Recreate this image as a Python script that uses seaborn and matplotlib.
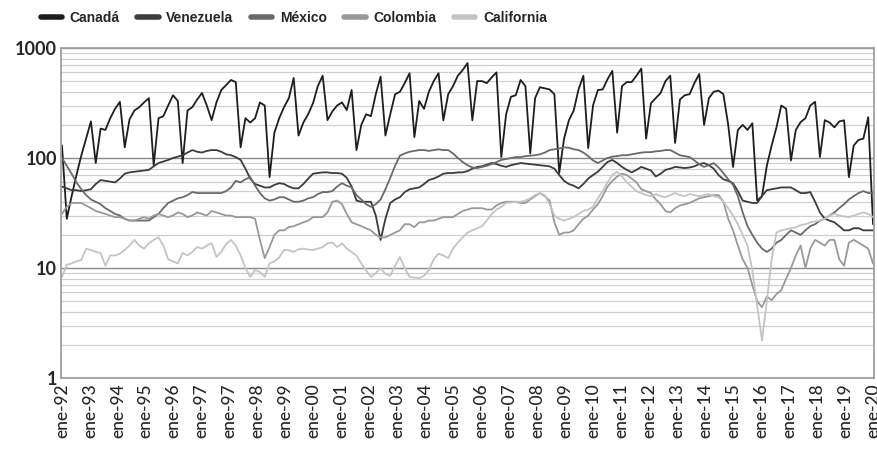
import numpy as np
import pandas as pd
import matplotlib
matplotlib.use("Agg")
import matplotlib.pyplot as plt
import seaborn as sns

# bi-monthly observations (6 per year), Jan 1992 .. Jan 2020
canada = [130, 28, 45, 70, 105, 150,        # 1992
          215, 90, 185, 180, 230, 280,      # 1993
          324, 125, 225, 270, 290, 320,     # 1994
          350, 86, 230, 240, 300, 372,      # 1995
          330, 90, 270, 290, 340, 390,      # 1996
          300, 221, 320, 415, 460, 512,     # 1997
          490, 125, 230, 210, 230, 320,     # 1998
          300, 67, 170, 230, 290, 350,      # 1999
          534, 160, 210, 250, 315, 450,     # 2000
          560, 221, 265, 300, 320, 273,     # 2001
          415, 118, 200, 250, 240, 380,     # 2002
          550, 160, 250, 380, 400, 480,     # 2003
          590, 155, 330, 280, 400, 500,     # 2004
          590, 220, 380, 450, 560, 630,     # 2005
          730, 220, 500, 500, 480, 540,     # 2006
          600, 102, 250, 360, 372, 512,     # 2007
          450, 110, 350, 440, 430, 420,     # 2008
          380, 73, 150, 220, 270, 420,      # 2009
          560, 123, 300, 415, 420, 520,     # 2010
          620, 170, 450, 490, 490, 560,     # 2011
          650, 150, 315, 350, 390, 500,     # 2012
          560, 137, 340, 372, 380, 480,     # 2013
          580, 200, 350, 400, 410, 380,     # 2014
          200, 83, 180, 200, 180, 207,      # 2015
          41, 45, 85, 130, 190, 300,        # 2016
          280, 95, 180, 212, 230, 300,      # 2017
          324, 102, 221, 210, 190, 215,     # 2018
          220, 67, 130, 146, 150, 235,      # 2019
          25]                               # 2020
venezuela = [55, 53, 51, 51, 50, 51,
             52, 58, 63, 62, 61, 60,
             65, 72, 74, 75, 76, 77,
             78, 84, 90, 93, 96, 100,
             103, 106, 112, 118, 114, 112,
             116, 118, 118, 114, 108, 106,
             102, 96, 80, 65, 58, 56,
             54, 54, 57, 59, 58, 55,
             53, 53, 58, 65, 72, 73,
             74, 74, 73, 73, 72, 66,
             55, 41, 40, 40, 40, 30,
             18, 28, 39, 42, 44, 49,
             52, 53, 54, 58, 63, 65,
             68, 72, 73, 73, 74, 74,
             76, 80, 83, 84, 87, 90,
             88, 85, 83, 86, 88, 90,
             89, 88, 87, 86, 85, 84,
             80, 70, 62, 58, 56, 53,
             58, 65, 70, 75, 83, 92,
             96, 90, 83, 78, 74, 78,
             83, 80, 77, 68, 72, 78,
             80, 83, 82, 81, 82, 84,
             88, 90, 86, 80, 70, 64,
             62, 59, 50, 41, 40, 39,
             39, 45, 51, 52, 53, 54,
             54, 54, 51, 48, 48, 49,
             40, 32, 28, 27, 26, 24,
             22, 22, 23, 23, 22, 22,
             22]
mexico = [100, 85, 72, 60, 52, 46,
          42, 40, 38, 35, 33, 31,
          30, 28, 27, 27, 27, 27,
          27, 29, 31, 35, 39, 41,
          43, 44, 46, 49, 48, 48,
          48, 48, 48, 48, 50, 54,
          62, 60, 64, 67, 56, 48,
          43, 41, 42, 44, 44, 42,
          40, 40, 41, 43, 44, 47,
          49, 49, 50, 55, 59, 56,
          54, 46, 42, 38, 36, 38,
          42, 52, 66, 85, 105, 110,
          114, 116, 118, 118, 116, 118,
          120, 118, 118, 110, 100, 92,
          86, 82, 81, 83, 85, 88,
          92, 96, 98, 100, 102, 102,
          104, 105, 106, 108, 112, 118,
          120, 122, 125, 124, 120, 118,
          112, 104, 95, 90, 95, 100,
          103, 104, 106, 106, 108, 110,
          112, 113, 113, 115, 116, 118,
          118, 112, 106, 104, 102, 95,
          88, 83, 86, 90, 82, 73,
          64, 57, 45, 32, 24, 20,
          17, 15, 14, 15, 17, 18,
          20, 22, 21, 20, 22, 24,
          25, 27, 28, 30, 32, 35,
          38, 42, 45, 48, 50, 48,
          48]
colombia = [31, 36, 39, 39, 39, 37,
            35, 33, 32, 31, 30, 29,
            29, 28, 27, 27, 28, 29,
            28, 30, 31, 30, 29, 30,
            32, 31, 29, 30, 32, 31,
            30, 33, 32, 31, 30, 30,
            29, 29, 29, 29, 28, 18,
            12.3, 15.5, 20, 22, 22, 23.5,
            24, 25, 26, 27, 29, 29,
            29, 32, 40, 41, 38, 31,
            26, 25, 24, 23, 22, 20,
            19, 19, 20, 21, 22, 25,
            25, 23.5, 26, 26, 27, 27,
            28, 29, 29, 29, 31, 33,
            34, 35, 35, 35, 34, 34,
            37, 39, 40, 40, 40, 39,
            39, 42, 45, 48, 45, 41,
            26, 20, 21, 21, 22, 25,
            28, 30, 34, 38, 45, 55,
            62, 68, 72, 70, 65, 60,
            52, 50, 48, 42, 38, 33,
            32, 35, 37, 38, 39, 41,
            43, 44, 45, 46, 46, 40,
            28, 22, 16, 12, 10, 7,
            5, 4.4, 5.5, 5.1, 5.8, 6.3,
            8, 10, 13, 16, 10, 15,
            18, 17, 16, 18, 18, 12,
            10.5, 17, 18, 17, 16, 15,
            11]
california = [8.3, 10.7, 11, 11.5, 11.8, 15,
              14.6, 14, 13.7, 10.5, 13, 13,
              13.5, 14.6, 16, 18, 16, 15,
              16.8, 18, 19, 16, 12, 11.5,
              11, 13.7, 13, 14, 15.5, 15,
              16, 16.8, 12.6, 14, 16.5, 18,
              16, 13, 10, 8.3, 9.6, 9.2,
              8.3, 11, 11.5, 12.5, 14.6, 14.5,
              14, 14.8, 15, 14.7, 14.6, 15,
              15.5, 16.8, 17, 15.5, 16.8, 15,
              14, 13, 11, 9.5, 8.3, 9,
              10, 8.8, 8.5, 10.5, 12.6, 10,
              8.3, 8.2, 8.1, 8.5, 9.6, 12,
              13.5, 13, 12.3, 15, 17, 19,
              21, 22, 23, 24, 27, 31,
              34, 36, 39, 39.5, 40, 40,
              41, 43, 46, 48, 46, 38,
              30, 28, 27, 28, 29, 31,
              33, 34, 36, 43, 50, 60,
              70, 75, 68, 60, 55, 50,
              48, 46, 45, 47, 45, 44,
              46, 48, 46, 45, 47, 46,
              45, 46, 47, 45, 44, 40,
              35, 30, 25, 20, 16, 9.5,
              4.6, 2.2, 5, 12, 21, 22,
              22.5, 23, 23.5, 24.5, 25, 26,
              26.5, 27, 28, 30, 31, 30,
              29.5, 29, 30, 31, 32, 31,
              29]

series_names = ["Canadá", "Venezuela", "México", "Colombia", "California"]
series_values = [canada, venezuela, mexico, colombia, california]
series_colors = ["#1e1e1e", "#3c3c3c", "#6a6a6a", "#999999", "#c4c4c4"]

tick_labels = ["ene-92", "ene-93", "ene-94", "ene-95", "ene-96", "ene-97", "ene-97",
               "ene-98", "ene-99", "ene-00", "ene-01", "ene-02", "ene-03", "ene-04",
               "ene-05", "ene-06", "ene-07", "ene-08", "ene-09", "ene-10", "ene-11",
               "ene-12", "ene-13", "ene-14", "ene-15", "ene-16", "ene-17", "ene-18",
               "ene-19", "ene-20"]

n = len(canada)
rows = []
for name, vals in zip(series_names, series_values):
    assert len(vals) == n, (name, len(vals))
    for i, v in enumerate(vals):
        rows.append({"t": i, "valor": v, "serie": name})
df = pd.DataFrame(rows)

sns.set_style("white")
plt.rcParams["font.family"] = ["Lato", "DejaVu Sans"]

fig = plt.figure(figsize=(8.77, 4.59), dpi=100)
ax = fig.add_axes([61 / 877, 1 - 378 / 459, (874 - 61) / 877, (378 - 48) / 459])

sns.lineplot(data=df, x="t", y="valor", hue="serie", hue_order=series_names,
             palette=series_colors, linewidth=1.3, ax=ax, legend=False)

ax.set_yscale("log")
ax.set_ylim(1, 1000)
ax.set_xlim(-0.2, n - 1 + 0.2)

ax.set_yticks([1, 10, 100, 1000])
ax.set_yticklabels(["1", "10", "100", "1000"], fontsize=13, fontweight="bold")
ax.yaxis.set_minor_locator(matplotlib.ticker.LogLocator(base=10, subs=np.arange(2, 10)))
ax.yaxis.set_minor_formatter(matplotlib.ticker.NullFormatter())
ax.grid(True, which="major", axis="y", color="#8a8a8a", linewidth=1.0)
ax.grid(True, which="minor", axis="y", color="#d0d0d0", linewidth=0.9)
ax.tick_params(axis="y", which="both", length=0, pad=3)

pos = np.linspace(0, n - 1, len(tick_labels))
ax.set_xticks(pos)
ax.set_xticklabels(tick_labels, rotation=90, fontsize=12.5, fontweight="medium")
ax.tick_params(axis="x", length=0, pad=4)
ax.set_xlabel("")
ax.set_ylabel("")

for s in ax.spines.values():
    s.set_color("#a0a0a0")
    s.set_linewidth(1.3)

handles = [matplotlib.lines.Line2D([], [], color=c, linewidth=4) for c in series_colors]
fig.legend(handles, series_names, loc="center left", bbox_to_anchor=(28 / 877, 1 - 18 / 459),
           ncol=5, frameon=False, handlelength=1.55, handletextpad=0.55, columnspacing=1.25,
           prop={"family": ["Liberation Sans", "DejaVu Sans"], "weight": "bold", "size": 10})

fig.savefig("out.png", dpi=100)
